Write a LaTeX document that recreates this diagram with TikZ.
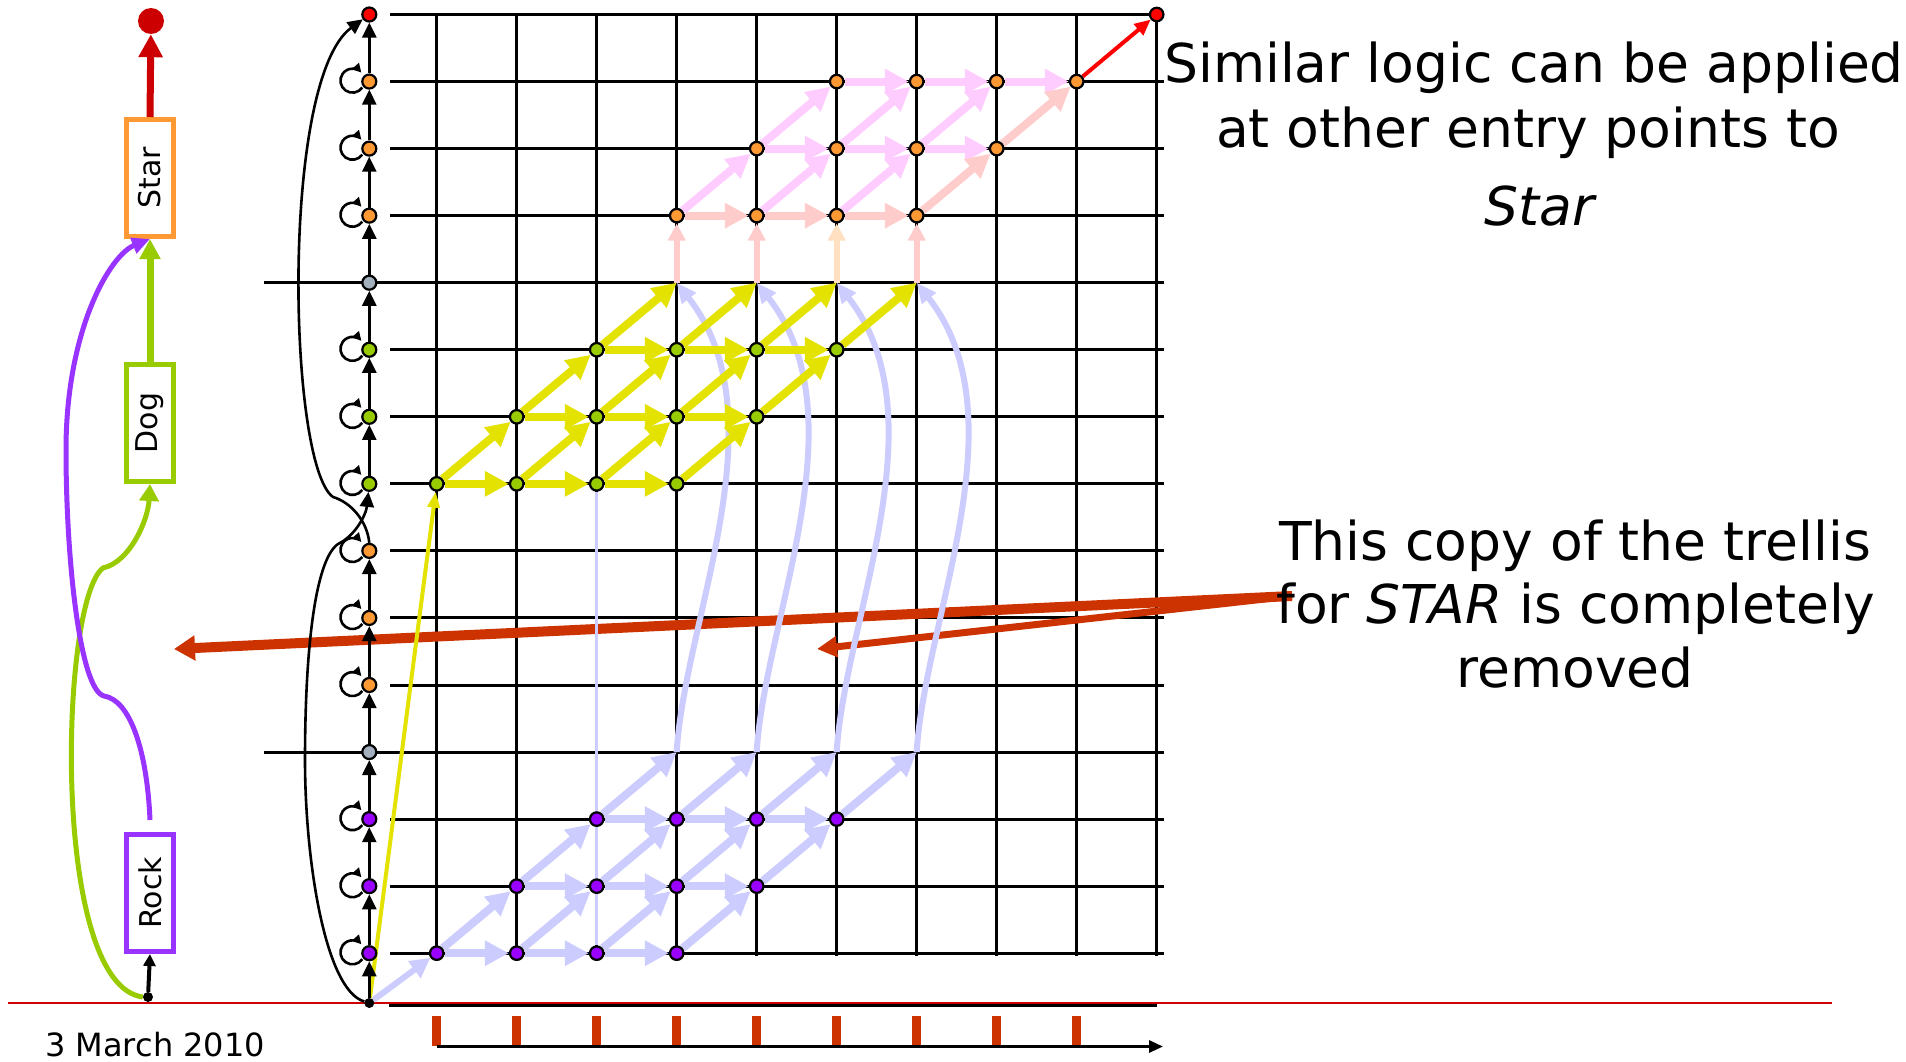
\documentclass[tikz,border=0pt]{standalone}
\usepackage{fontspec}
\setmainfont{DejaVu Sans}
\usetikzlibrary{arrows.meta}
\definecolor{yel}{RGB}{228,226,0}
\definecolor{lav}{RGB}{204,204,255}
\definecolor{pnk}{RGB}{255,204,255}
\definecolor{slm}{RGB}{255,204,204}
\definecolor{pch}{RGB}{255,224,192}
\definecolor{grn}{RGB}{153,204,0}
\definecolor{org}{RGB}{255,153,51}
\definecolor{prp}{RGB}{153,0,255}
\definecolor{prpl}{RGB}{153,51,255}
\definecolor{gry}{RGB}{163,175,189}
\definecolor{dred}{RGB}{204,0,0}
\definecolor{brick}{RGB}{204,51,0}
\pgfdeclarelayer{bglayer}
\pgfdeclarelayer{gridlayer}
\pgfdeclarelayer{calloutlayer}
\pgfdeclarelayer{arrlayer}
\pgfsetlayers{bglayer,gridlayer,calloutlayer,arrlayer,main}
\begin{document}
\begin{tikzpicture}[x=1pt,y=-1pt,
  tn/.style={circle,draw=black,line width=2.2pt,minimum size=13.5pt,inner sep=0pt},
  cn/.style={circle,draw=black,line width=2.2pt,minimum size=14pt,inner sep=0pt},
  wbox/.style={draw,line width=5pt,minimum width=47pt,minimum height=117pt,inner sep=0pt,fill=white,font=\fontsize{30pt}{36pt}\selectfont},
  gl/.style={line width=3pt,black},
  ca/.style={line width=2.6pt,black,-{Triangle[length=15pt,width=14pt]}},
  lp/.style={line width=2.6pt,black,-{Triangle[length=9pt,width=9pt]}},
  thk/.style={line width=8pt,-{Triangle[length=24pt,width=24pt]}},
  bigtxt/.style={font=\fontsize{53.5pt}{64pt}\selectfont,inner sep=0pt,anchor=base}
]
\useasboundingbox (0,0) rectangle (1906,1062);
\begin{pgfonlayer}{bglayer}
\fill[white] (0,0) rectangle (1906,1062);
\end{pgfonlayer}

% grid coordinates
\foreach \cc in {0,...,9}{\foreach \rw in {0,...,14}{\coordinate (p\cc-\rw) at ({436.7+80*\cc},{14.5+67.05*\rw});}}
\foreach \k in {0,...,14}{\coordinate (q\k) at (369.3,{14.5+67.05*\k});}

% grid
\begin{pgfonlayer}{gridlayer}
\foreach \k in {1,2,3,5,6,7,8,9,10,12,13,14}{\draw[gl] (390,{14.5+67.05*\k}) -- (1164,{14.5+67.05*\k});}
\foreach \k in {4,11}{\draw[gl] (264,{14.5+67.05*\k}) -- (1164,{14.5+67.05*\k});}
\draw[gl] (390,14.5) -- (p9-0);
\foreach \cc in {0,...,9}{\draw[gl] (p\cc-0) -- ({436.7+80*\cc},956);}
\draw[dred,line width=2pt] (8,1003) -- (1832,1003);
\draw[gl] (389,1005.5) -- (1157,1005.5);
% time axis
\foreach \cc in {0,...,8}{\draw[brick,line width=8.5pt] ({436.7+80*\cc},1016) -- ({436.7+80*\cc},1046);}
\coordinate (ta0) at (436.7,1046.5);
\coordinate (ta1) at (1163,1046.5);
\draw[line width=3pt,-{Triangle[length=14pt,width=12pt]}] (ta0) -- (ta1);
\end{pgfonlayer}

% state column nodes
\node[cn,fill=red] (sc0) at (q0) {};
\foreach \k in {1,2,3,8,9,10}{\node[cn,fill=org] (sc\k) at (q\k) {};}
\foreach \k in {4,11}{\node[cn,fill=gry] (sc\k) at (q\k) {};}
\foreach \k in {5,6,7}{\node[cn,fill=grn] (sc\k) at (q\k) {};}
\foreach \k in {12,13,14}{\node[cn,fill=prp] (sc\k) at (q\k) {};}
\node[circle,fill=black,minimum size=10pt,inner sep=0pt] (sb) at (369.3,1003) {};

% trellis nodes
\foreach \rw/\st/\col in {7/0/grn,6/1/grn,5/2/grn,14/0/prp,13/1/prp,12/2/prp,3/3/org,2/4/org,1/5/org}{
  \foreach \k in {0,...,3}{
    \pgfmathtruncatemacro\cc{\st+\k}
    \node[tn,fill=\col] (n\cc-\rw) at (p\cc-\rw) {};}}
\node[tn,fill=red] (n9-0) at (p9-0) {};

% column arrows and loops
\foreach \k/\m in {1/0,2/1,3/2,4/3,5/4,6/5,7/6,9/8,10/9,11/10,12/11,13/12,14/13}{\draw[ca] (sc\k) -- (sc\m);}
\draw[ca] (sb) -- (sc14);
\foreach \k in {1,2,3,5,6,7,8,9,10,12,13,14}{
  \draw[lp] ([shift={(-7,6)}]sc\k.center) arc[start angle=35,end angle=318,radius=12];}
\draw[ca] (sc8.north) .. controls (367,520) and (350,502) .. (333,497) .. controls (288,465) and (280,80) .. (sc0);
\draw[ca] (sb) .. controls (325,990) and (305,860) .. (305,760) .. controls (305,650) and (315,560) .. (338,544) .. controls (355,536) and (366,515) .. (sc7);

% callout arrows
\coordinate (cs) at (1292,596);
\coordinate (ce1) at (174,649);
\coordinate (ce2) at (817,649);
\begin{pgfonlayer}{calloutlayer}
\draw[brick,line width=10pt,-{Triangle[length=21pt,width=24pt]}] (cs) -- (ce1);
\draw[brick,line width=7pt,-{Triangle[length=20pt,width=20pt]}] (cs) -- (ce2);
\end{pgfonlayer}

% trellis arrows
\begin{pgfonlayer}{arrlayer}
\draw[lav,line width=2.5pt] (n2-7) -- (n2-14);
% Rock copy (lavender)
\draw[lav,line width=6pt,-{Triangle[length=20pt,width=20pt]}] (sb) -- (n0-14);
\foreach \rw/\st in {14/0,13/1,12/2}{
  \foreach \k in {0,1,2}{
    \pgfmathtruncatemacro\cc{\st+\k}\pgfmathtruncatemacro\dd{\st+\k+1}
    \draw[thk,lav] (n\cc-\rw) -- (n\dd-\rw);}}
\foreach \rw/\st in {14/0,13/1}{
  \foreach \k in {0,...,3}{
    \pgfmathtruncatemacro\cc{\st+\k}\pgfmathtruncatemacro\dd{\st+\k+1}\pgfmathtruncatemacro\qq{\rw-1}
    \draw[thk,lav] (n\cc-\rw) -- (n\dd-\qq);}}
\foreach \cc in {2,...,5}{\pgfmathtruncatemacro\dd{\cc+1}\draw[thk,lav] (n\cc-12) -- (p\dd-11);}
\foreach \cc in {3,...,6}{
  \draw[lav,line width=6pt,-{Triangle[length=20pt,width=17pt]}] (p\cc-11) .. controls +(8,-134) and +(105,134) .. (p\cc-4);}
% Dog copy (yellow)
\draw[yel,line width=4pt,-{Triangle[length=16pt,width=12pt]}] (sb) -- (n0-7);
\foreach \rw/\st in {7/0,6/1,5/2}{
  \foreach \k in {0,1,2}{
    \pgfmathtruncatemacro\cc{\st+\k}\pgfmathtruncatemacro\dd{\st+\k+1}
    \draw[thk,yel] (n\cc-\rw) -- (n\dd-\rw);}}
\foreach \rw/\st in {7/0,6/1}{
  \foreach \k in {0,...,3}{
    \pgfmathtruncatemacro\cc{\st+\k}\pgfmathtruncatemacro\dd{\st+\k+1}\pgfmathtruncatemacro\qq{\rw-1}
    \draw[thk,yel] (n\cc-\rw) -- (n\dd-\qq);}}
\foreach \cc in {2,...,5}{\pgfmathtruncatemacro\dd{\cc+1}\draw[thk,yel] (n\cc-5) -- (p\dd-4);}
% Star copy (pink)
\foreach \cc/\co in {3/slm,4/slm,5/pch,6/slm}{
  \draw[\co,line width=6pt,-{Triangle[length=17pt,width=17pt]}] (p\cc-4) -- (n\cc-3);}
\foreach \cc/\dd in {3/4,4/5,5/6}{\draw[thk,slm] (n\cc-3) -- (n\dd-3);}
\foreach \cc/\dd in {4/5,5/6,6/7}{\draw[thk,pnk] (n\cc-2) -- (n\dd-2);}
\foreach \cc/\dd in {5/6,6/7,7/8}{\draw[thk,pnk] (n\cc-1) -- (n\dd-1);}
\foreach \cc/\dd in {3/4,4/5,5/6}{\draw[thk,pnk] (n\cc-3) -- (n\dd-2);}
\draw[thk,slm] (n6-3) -- (n7-2);
\foreach \cc/\dd in {4/5,5/6,6/7}{\draw[thk,pnk] (n\cc-2) -- (n\dd-1);}
\draw[thk,slm] (n7-2) -- (n8-1);
\draw[red,line width=4pt,-{Triangle[length=16pt,width=14pt]}] (n8-1) -- (n9-0);
\end{pgfonlayer}

% left word network
\node[wbox,draw=org] (starbox) at (150,178) {\rotatebox{90}{Star}};
\node[wbox,draw=grn] (dogbox) at (150,423) {\rotatebox{90}{Dog}};
\node[wbox,draw=prpl] (rockbox) at (150,893) {\rotatebox{90}{Rock}};
\node[circle,fill=dred,minimum size=26pt,inner sep=0pt] (enddot) at (151,21) {};
\node[circle,fill=black,minimum size=10pt,inner sep=0pt] (rockdot) at (148,997) {};
\draw[dred,line width=7pt,-{Triangle[length=23pt,width=23pt]}] (starbox.north) -- (enddot);
\draw[grn,line width=7pt,-{Triangle[length=20pt,width=20pt]}] (dogbox.north) -- (starbox.south);
\draw[black,line width=4pt,-{Triangle[length=12pt,width=12pt]}] (rockdot) -- (rockbox.south);
\draw[grn,line width=5pt,-{Triangle[length=17pt,width=19pt]}] (rockdot.west) .. controls (50,985) and (60,600) .. (103,568) .. controls (130,562) and (148,520) .. (dogbox.south);
\draw[prpl,line width=5pt,-{Triangle[length=18pt,width=16pt]}] ([yshift=12pt]rockbox.north) .. controls (147,750) and (130,700) .. (104,696) .. controls (80,690) and (66,560) .. (66,450) .. controls (66,330) and (110,255) .. (starbox.south);

% texts
\node[bigtxt] (t1) at (1534,83) {Similar logic can be applied};
\node[bigtxt] (t2) at (1528,148) {at other entry points to};
\node[bigtxt] (t3) at (1541,225) {\textit{Star}};
\node[bigtxt] (u1) at (1575,560) {This copy of the trellis};
\node[bigtxt] (u2) at (1576,623) {for \textit{STAR} is completely};
\node[bigtxt] (u3) at (1575,687) {removed};
\node[font=\fontsize{32pt}{38pt}\selectfont,inner sep=0pt,anchor=base west] (date) at (45,1056) {3 March 2010};
\end{tikzpicture}
\end{document}
